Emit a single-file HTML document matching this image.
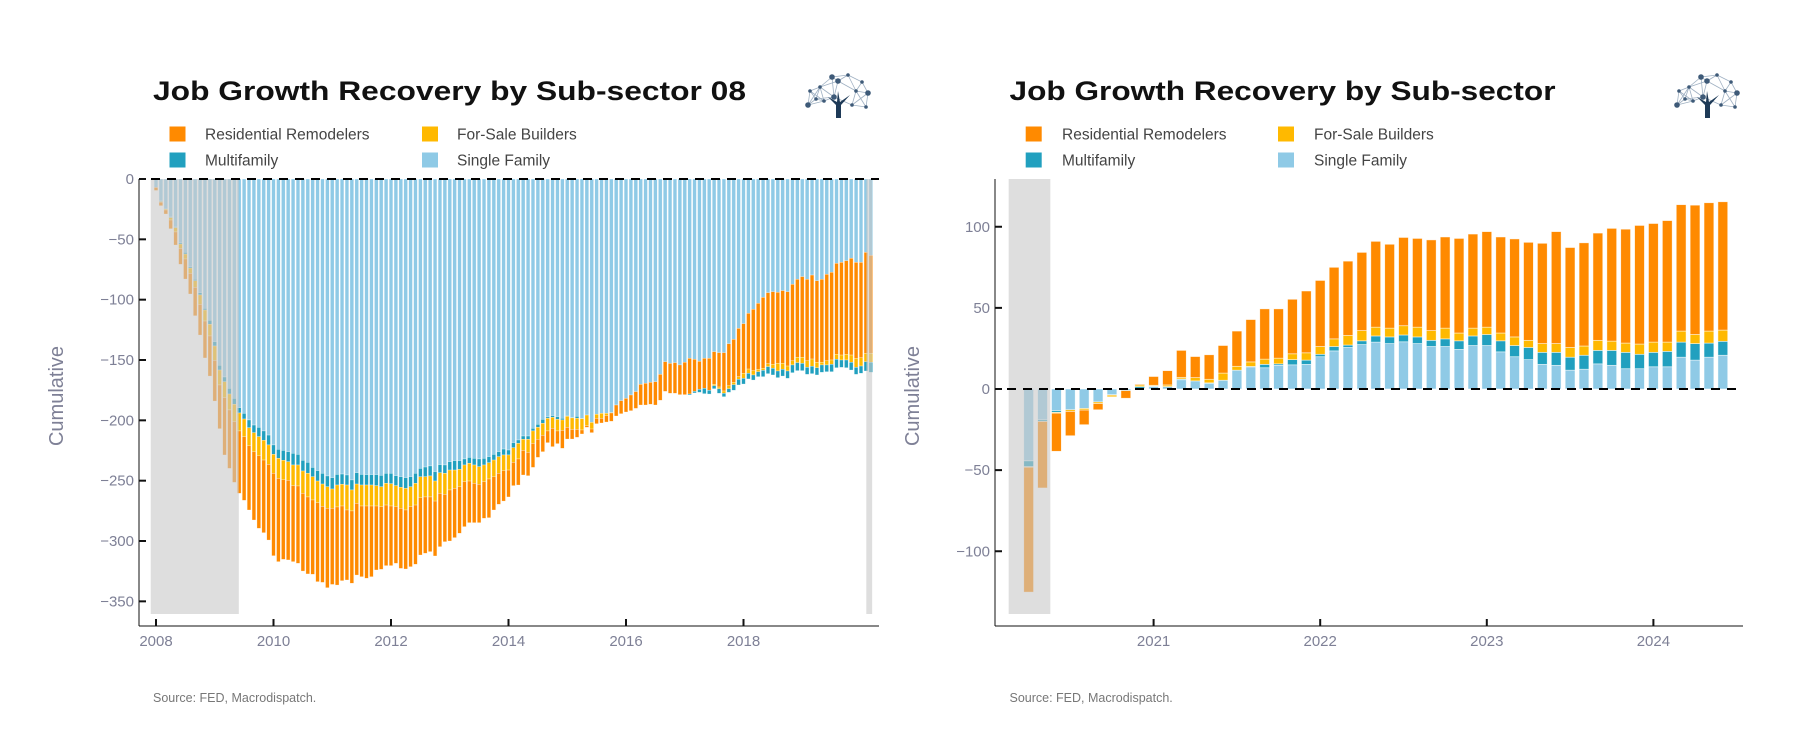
<!DOCTYPE html>
<html><head><meta charset="utf-8"><style>
html,body{margin:0;padding:0;background:#fff;}
svg{display:block;font-family:"Liberation Sans","DejaVu Sans",sans-serif;}
</style></head><body>
<svg id="root" width="1797" height="751" viewBox="0 0 1797 751" xmlns="http://www.w3.org/2000/svg">
<g id="left"></g>
<g id="right"></g>
</svg>
<script>
// ---------- LEFT CHART DATA (monthly from Jan 2008) ----------
const leftSF = [-7,-18.2,-24.9,-31.5,-39.8,-52.8,-60.8,-72.7,-83.1,-94.2,-107.2,-117.1,-134.8,-154.4,-164.1,-173.5,-181.8,-189.5,-194.2,-199.7,-203.9,-205.8,-208.8,-212.2,-220.4,-224,-224.9,-226,-227.3,-228.2,-233.1,-234.8,-239,-241.7,-243.9,-246.1,-247.5,-244.8,-244.5,-245.3,-249.4,-243.4,-244.8,-245,-245,-245,-245.6,-243.9,-243.9,-245.9,-246.7,-247.5,-246.7,-243.9,-239.8,-238.7,-237.8,-242.5,-236.7,-237,-234.3,-233.4,-233.4,-232,-230.7,-231.5,-232,-231.5,-230.1,-228.2,-226,-223.8,-224.6,-218.5,-216.3,-213,-213,-206.6,-203.3,-199.2,-197.2,-196.1,-197,-198.3,-196.1,-197.5,-196.7,-198.3,-195.6,-201.7,-195,-194.2,-194.2,-193.6,-187.3,-183.7,-181.8,-179,-176.2,-170.2,-169.3,-168.5,-168,-161.9,-151.4,-152.8,-152.2,-154.1,-151.9,-148.6,-149.4,-151.1,-148.6,-148.6,-143.1,-143.9,-143.9,-136.5,-132.9,-123.8,-119.9,-111.3,-108,-103,-98.1,-94.2,-93.4,-93.9,-92.5,-93.4,-87.3,-83.1,-80.9,-83.1,-79.6,-84.3,-83.1,-79,-77.3,-69.9,-69.1,-67.7,-65.7,-69.1,-69.1,-60.8,-63.3];
const leftMF = [0,-0.5,0,-0.5,-0.5,-1.1,-1.4,-1.1,-1.2,-1.9,-1.4,-3.3,-3.6,-3.9,-3.9,-4.7,-4.9,-4.4,-4.7,-6.4,-6.3,-7.7,-7.8,-8.2,-7.8,-7.5,-8.2,-8.3,-9.7,-8.8,-8.9,-9.1,-7.7,-8.6,-8.9,-8.9,-9.4,-8.8,-8.5,-8.3,-8.3,-9.4,-8.8,-8.6,-8.6,-9.1,-9.4,-8.3,-8.6,-8.2,-8.8,-8.9,-8.3,-8.3,-6.9,-8,-8.3,-7.8,-6.7,-6.9,-6.9,-7.8,-7.2,-5,-4.9,-5.5,-6.4,-5.5,-5,-4.7,-4.1,-4.9,-4.1,-4.2,-2.8,-2.7,-2.7,-2.2,-2.5,-3.3,-1.1,-1.4,-2.2,-1.4,-0.5,-0.5,-1.6,-0.3,0,0,0,0,0,0,0,0,0,0,0,0,0,0,0,0,0,0,0,0,0,-0.8,-1.3,-2.5,-4.4,-3.1,-2.5,-3.8,-2.8,-3,-4.7,-4.7,-4.7,-4.7,-4.2,-4.1,-5.2,-5.8,-5.5,-5.5,-5.6,-6.1,-6.4,-6.6,-6,-5.8,-6.1,-6,-6.1,-5.6,-6.1,-7,-6.1,-6.4,-6.4,-5.8,-6,-7.7,-8.3];
const leftFS = [0,-0.5,-0.8,-2,-3.6,-3.6,-4.1,-4.4,-5.5,-7.8,-9.1,-9.7,-11.9,-12.4,-13.2,-13.2,-14.4,-14.9,-14.6,-14.9,-15.8,-15.8,-16.3,-16.1,-15.7,-16.6,-16.1,-15.4,-17.1,-17.4,-18.5,-19.6,-19.3,-17.9,-18.5,-17.9,-16,-18.2,-18,-20.7,-17.4,-16,-17.4,-17.4,-17.4,-16.9,-16.5,-18,-18.5,-17.4,-17.4,-17.9,-16.5,-18,-17.4,-16.8,-17.4,-16.6,-17.1,-17.4,-16.5,-15.2,-14.4,-13.8,-14.7,-15.2,-14.6,-13.8,-13.5,-13.8,-13.8,-13,-12.5,-12.1,-12.9,-9.2,-10.8,-10.3,-9.9,-9.9,-10.5,-9.1,-9.6,-8.6,-9.2,-9.5,-9.2,-9.4,-8.8,-5.5,-3.3,-4.1,-1.9,-0.3,0,0,0,0,0,0,0,0,0,0,0,0,0,0,0,0,0,0,0,0,-1.1,-1.4,-1.9,-2.5,-1.9,-2.2,-4.2,-3.5,-3.6,-2,-1.7,-2.5,-3.3,-6.3,-4.9,-4.1,-3.5,-4.4,-5,-5.5,-6,-4.5,-2.2,-3.5,-3.6,-4.1,-4.1,-4.7,-6,-7.5,-6.9,-6.9,-7.4];
const leftRR = [-2.5,-2.9,-3.3,-7.2,-10.8,-13.2,-16.6,-17.1,-23.5,-25.4,-30.6,-33.2,-33.7,-36.2,-47.5,-48.4,-50.3,-51.7,-52.8,-53.3,-56.6,-60.2,-60.2,-62.7,-68.3,-69,-66,-66,-63,-64.1,-64.4,-63.8,-61.6,-65.5,-63,-65.8,-63.1,-64.7,-61.9,-58,-59.9,-59.4,-58.6,-59.9,-58.6,-53,-52,-50.2,-49.4,-47,-49.8,-48.9,-49.8,-49.1,-47.5,-46.7,-45.3,-45.5,-44.2,-39.3,-42.3,-40.8,-38.6,-37.3,-34.5,-32.6,-31.8,-30.4,-32.1,-27.6,-25.7,-25.2,-22.3,-19.3,-21.6,-20.4,-19.4,-19.9,-15,-13.6,-9.7,-15.2,-10.5,-14.9,-9.7,-8,-6.6,-3.3,-1.4,-3,-4.5,-3.9,-5.3,-6.9,-9.1,-10.8,-11.3,-13,-13.9,-17.1,-18,-18.2,-19.3,-21.5,-24.6,-24.8,-25.4,-24.6,-26.8,-29.6,-26.6,-23.2,-24.9,-26.5,-27.1,-28.5,-31.8,-34.8,-35.6,-40,-41.1,-46.2,-50.8,-54.7,-58.8,-58.8,-60.2,-58.9,-60.3,-61.6,-63.3,-64.7,-66.9,-67.5,-69.6,-67.6,-68.8,-71.6,-72.7,-75.4,-76.8,-77.6,-80.2,-79.5,-79,-83.7,-81.2];
const leftYTicks = [0,-50,-100,-150,-200,-250,-300,-350];
const leftXTicks = [2008,2010,2012,2014,2016,2018];
const leftRecessions = [[2007.91,2009.41],[2020.09,2020.19]];

// ---------- RIGHT CHART DATA (monthly from Apr 2020) ----------
const rightSF = [-44.3,-19,-13.4,-12.8,-12,-8,-3.5,-1,0.5,1.5,1.5,5.7,5,3.3,5.4,11.6,13.7,13.1,14.6,14.9,15.2,19.9,23.5,25.6,27.4,28.9,28,29.1,28,26.2,26.2,24.4,26.8,26.8,22.9,19.9,18.1,15.2,14.6,11.6,12.2,15.5,14.6,12.5,12.5,13.7,13.7,19.6,17.8,19.6,20.8];
const rightMF = [-3.6,-1,-1,0,0,0,-0.3,0,1,0.3,0,0.5,0,0.5,0,0,0.2,2.1,0.9,3.2,2.6,1.5,2.7,1.5,2.3,3.8,4.1,4.2,4.1,3.8,4.7,5.3,5.9,6.8,6.8,6.9,7.5,7.4,8,8,8.6,8.3,9.2,10.1,8.9,8.9,9.5,9.3,10.2,8.7,8.6];
const rightFS = [-0.3,0,-0.5,-1,-1,-1,-1,0,1,0.5,1,1,2,2.2,4.4,2.4,2.8,3.2,3.5,3.6,4.5,4.8,4.7,5.9,6.3,5.4,5.4,5.7,6,6,6.6,4.8,4.8,4.5,4.8,5.3,4.4,5.4,5.4,6,5.7,6.2,5.7,5.7,6.3,6.3,5.7,6.8,5.6,7.4,6.9];
const rightRR = [-77,-41,-23.5,-15,-9,-3.8,0,-4.7,0.5,5.4,8.8,16.6,13,15.1,17,21.7,26.1,31,30.4,33.6,38.1,40.7,44.1,45.8,48.2,52.9,51.7,54.4,54.7,55.9,56.2,58.3,58,58.9,59.2,60.4,60.4,61.8,69,61.6,63.6,66.1,69.5,70.2,73.1,73.1,74.9,77.9,79.7,79.1,79.1];
const rightYTicks = [100,50,0,-50,-100];
const rightXTicks = [2021,2022,2023,2024];
const rightRecessions = [[2020.13,2020.38]];

const COL = {rr:'#FF8A00', fs:'#FFB900', mf:'#21A0BF', sf:'#8FCAE6'};
const NS = 'http://www.w3.org/2000/svg';
function mk(parent, tag, attrs, text){
  const e = document.createElementNS(NS, tag);
  for (const k in attrs) e.setAttribute(k, attrs[k]);
  if (text !== undefined) e.textContent = text;
  parent.appendChild(e);
  return e;
}

function logo(g, cx){
  const lg = mk(g,'g',{});
  
  
  const pts = [[-30,22],[-28,8],[-18,4],[-6,-6],[10,-8],[24,-1],[30,10],[28,24],[14,22],[-4,14],[-14,18],[-22,16],[0,-2],[18,8]];
  const ox = cx, oy = 83;
  for (let i=0;i<pts.length;i++) for (let j=i+1;j<pts.length;j++){
    const dx=pts[i][0]-pts[j][0], dy=pts[i][1]-pts[j][1];
    if (Math.hypot(dx,dy)<22) mk(lg,'line',{x1:ox+pts[i][0],y1:oy+pts[i][1],x2:ox+pts[j][0],y2:oy+pts[j][1],stroke:'#9fb0c2','stroke-width':0.8});
  }
  pts.forEach((p,k)=>mk(lg,'circle',{cx:ox+p[0],cy:oy+p[1],r:(k%3===0?2.8:1.8),fill:'#3e5a78'}));
  mk(lg,'path',{d:`M${ox-2},${oy+35} L${ox-2},${oy+22} L${ox-10},${oy+14} L${ox-1},${oy+19} L${ox},${oy+8} L${ox+2},${oy+19} L${ox+12},${oy+12} L${ox+3},${oy+22} L${ox+3},${oy+35} Z`,fill:'#1e3a57'});
}

function legend(g, sx, tx, sx2, tx2){
  const items = [['Residential Remodelers',COL.rr,sx,tx,126.5],['For-Sale Builders',COL.fs,sx2,tx2,126.5],['Multifamily',COL.mf,sx,tx,152.5],['Single Family',COL.sf,sx2,tx2,152.5]];
  items.forEach(it=>{
    const lg = mk(g,'g',{});
    
    
    mk(lg,'rect',{x:it[2],y:it[4],width:16,height:15,fill:it[1]});
    mk(lg,'text',{x:it[3],y:it[4]+13,'font-size':15.5,fill:'#444'},it[0]);
  });
}

function chart(g, o){
  // title
  const t = mk(g,'text',{x:o.titleX,y:100,'font-size':27,'font-weight':'bold',fill:'#111',textLength:o.titleW,lengthAdjust:'spacingAndGlyphs'},o.title);
  
  
  logo(g,o.logoX);
  legend(g,o.lg[0],o.lg[1],o.lg[2],o.lg[3]);
  // recession shading drawn later over bars
  const bars = mk(g,'g',{});
  
  
  for (let i=0;i<o.sf.length;i++){
    const t = o.t0 + i/12;
    const xc = o.x(t);
    let order = [[o.sf[i],COL.sf,'sf'],[o.mf[i],COL.mf,'mf'],[o.fs[i],COL.fs,'fs'],[o.rr[i],COL.rr,'rr']];
    if (o.lateSwap && i >= o.lateSwap) order = [order[0],order[3],order[2],order[1]];
    let pos=0, neg=0;
    order.forEach(s=>{
      const v=s[0]; if (!v) return;
      let a,b;
      if (v>0){a=pos;b=pos+v;pos=b;} else {a=neg;b=neg+v;neg=b;}
      const y1=o.y(Math.max(a,b)), y2=o.y(Math.min(a,b));
      const r = mk(bars,'rect',{x:xc-o.bw/2,y:y1,width:o.bw,height:Math.max(0.5,y2-y1),fill:s[1],stroke:'#fff','stroke-opacity':0.7,'stroke-width':o.sw});
      
      
    });
  }
  o.rec.forEach(rc=>{
    const r = mk(g,'rect',{x:o.x(rc[0]),y:179,width:o.x(rc[1])-o.x(rc[0]),height:435,fill:'rgb(200,200,200)','fill-opacity':0.6});
    
    
  });
  // zero line
  const zl = mk(g,'line',{x1:o.zeroX1,x2:o.axR,y1:o.y(0),y2:o.y(0),stroke:'#000','stroke-width':2,'stroke-dasharray':'9 7'});
  
  
  // axes
  const ya = mk(g,'line',{x1:o.axL,x2:o.axL,y1:179,y2:626,stroke:'#111','stroke-width':1});
  
  
  const xa = mk(g,'line',{x1:o.axL,x2:o.axR,y1:626,y2:626,stroke:'#111','stroke-width':1});
  
  
  o.yt.forEach(v=>{
    const y=o.y(v);
    mk(g,'line',{x1:o.axL,x2:o.axL+7,y1:y,y2:y,stroke:'#111','stroke-width':2});
    const tl = mk(g,'text',{x:o.axL-5,y:y+5,'font-size':15,fill:'#7e8096','text-anchor':'end'},v<0?'\u2212'+(-v):String(v));
    
    
  });
  o.xt.forEach(v=>{
    const x=o.x(v);
    mk(g,'line',{x1:x,x2:x,y1:619,y2:626,stroke:'#111','stroke-width':2});
    const tl = mk(g,'text',{x:x,y:646,'font-size':15,fill:'#7e8096','text-anchor':'middle'},String(v));
    
    
  });
  const yt = mk(g,'text',{x:o.ytX,y:396,'font-size':20,fill:'#7e8096','text-anchor':'middle',transform:`rotate(-90 ${o.ytX} 396)`},'Cumulative');
  
  
  const src = mk(g,'text',{x:o.titleX,y:702,'font-size':12.5,fill:'#777'},'Source: FED, Macrodispatch.');
  
  
}

chart(document.getElementById('left'),{
  title:'Job Growth Recovery by Sub-sector 08', titleX:153, titleW:593, logoX:838,
  lg:[169.5,205,422,457],
  sf:leftSF, mf:leftMF, fs:leftFS, rr:leftRR, t0:2008, lateSwap:109,
  x:t=>156+(t-2008)*58.75, y:v=>179-v*1.2067, bw:3.7, sw:0.4,
  rec:leftRecessions, yt:leftYTicks, xt:leftXTicks, axL:139, axR:879, zeroX1:151, ytX:63
});
chart(document.getElementById('right'),{
  title:'Job Growth Recovery by Sub-sector', titleX:1009.5, titleW:546, logoX:1707,
  lg:[1025.7,1062,1278,1314],
  sf:rightSF, mf:rightMF, fs:rightFS, rr:rightRR, t0:2020.25, lateSwap:0,
  x:t=>1153.6+(t-2021)*166.6, y:v=>389-v*1.6225, bw:9.8, sw:0.7,
  rec:rightRecessions, yt:rightYTicks, xt:rightXTicks, axL:995, axR:1743, zeroX1:1007, ytX:919
});
</script>
</body></html>
